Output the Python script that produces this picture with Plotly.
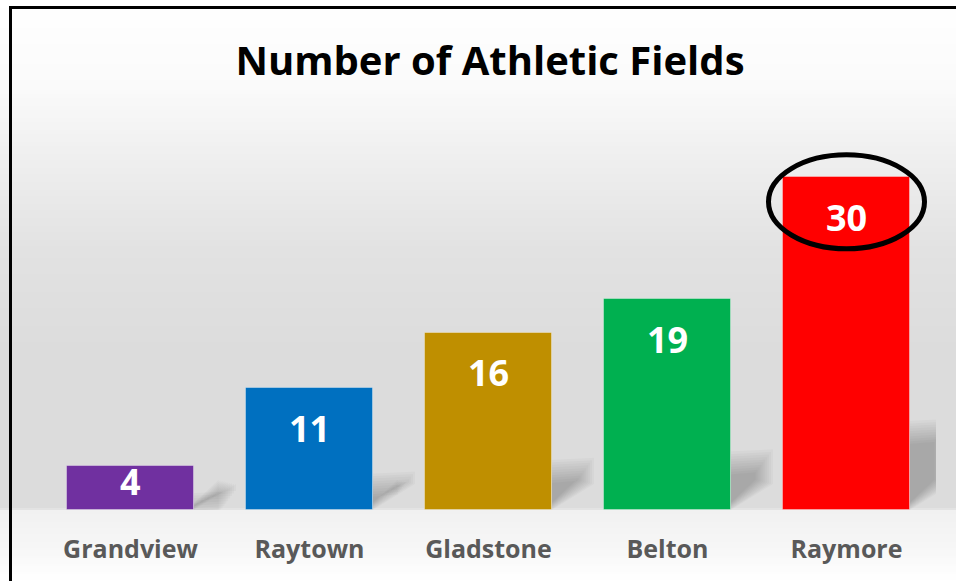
import plotly.graph_objects as go

# ---- data ----
categories = ["Grandview", "Raytown", "Gladstone", "Belton", "Raymore"]
values = [4, 11, 16, 19, 30]
bar_colors = ["#7030A0", "#0070C0", "#BF8F00", "#00B050", "#FF0000"]
chart_title = "Number of Athletic Fields"
highlight = "Raymore"

# ---- layout constants ----
W, H = 956, 581
ML, MR, MT, MB = 41, 20, 144, 71
YMAX = 33
xs = list(range(len(categories)))
PW, PH = W - ML - MR, H - MT - MB
px_x = PW / len(categories)      # pixels per category unit
px_y = PH / YMAX                 # pixels per value unit
BAR_W = 127 / px_x
FONT = "Open Sans"


def pxx(p):   # figure pixel x -> paper (plot-area) fraction
    return (p - ML) / PW


def pxy(p):   # figure pixel y (from top) -> paper fraction
    return (H - MB - p) / PH


fig = go.Figure()
fig.add_trace(go.Bar(
    x=xs, y=values, width=BAR_W,
    marker=dict(color=bar_colors, line=dict(width=1, color="rgba(255,255,255,0.35)")),
    hoverinfo="skip", showlegend=False,
))

shapes = []

# background vertical gradient over the whole figure
stops = [(0, 255), (90, 250), (150, 240), (250, 226), (350, 220),
         (508, 220), (511, 241), (545, 246), (581, 255)]


def gray_at(py):
    for (a, ga), (b, gb) in zip(stops[:-1], stops[1:]):
        if a <= py <= b:
            t = (py - a) / (b - a) if b > a else 0
            return ga + (gb - ga) * t
    return 255


step = 2
for py in range(0, H, step):
    g = int(round(gray_at(py + step / 2)))
    shapes.append(dict(
        type="rect", xref="paper", yref="paper", layer="below",
        x0=pxx(-5), x1=pxx(W + 5), y0=pxy(py + step + 1), y1=pxy(py),
        fillcolor=f"rgb({g},{g},{g})", line=dict(width=0),
    ))

# bar shadows (cast to the lower right), many faint layers for a soft edge
for x, v in zip(xs, values):
    xr = x + BAR_W / 2
    h_px = v * px_y
    sh = 0.25 * h_px
    for k in range(10):
        inset = k * 1.6
        pts = [
            (0, 0 + inset * 0.5),
            (0, sh + 6 - inset * 1.6),
            (42 - inset * 1.2, sh + 8 - inset * 1.6),
            (42 - inset * 1.2, 26 + inset * 0.3),
        ]
        path = "M " + " L ".join(
            f"{xr + p[0] / px_x:.4f},{p[1] / px_y:.4f}" for p in pts) + " Z"
        shapes.append(dict(type="path", xref="x", yref="y", layer="below",
                           path=path, fillcolor="rgba(0,0,0,0.024)",
                           line=dict(width=0)))

# highlight ellipse around the top of the highlighted bar
hi = categories.index(highlight)
hv = values[hi]
shapes.append(dict(
    type="circle", xref="x", yref="y", layer="above",
    x0=hi - 78 / px_x, x1=hi + 78 / px_x,
    y0=hv - (24.5 + 47) / px_y, y1=hv - (24.5 - 47) / px_y,
    line=dict(color="black", width=5), fillcolor="rgba(0,0,0,0)",
))

# outer frame (only left and top edges visible)
shapes.append(dict(type="rect", xref="paper", yref="paper", layer="above",
                   x0=pxx(10.5), x1=pxx(W + 20), y0=pxy(H + 20), y1=pxy(7.5),
                   line=dict(color="black", width=3), fillcolor="rgba(0,0,0,0)"))

# value labels inside bars
annotations = []
for x, v in zip(xs, values):
    ly = max(v - 40 / px_y, 29 / px_y)
    annotations.append(dict(
        x=x, y=ly, xref="x", yref="y", text=f"<b>{v}</b>", showarrow=False,
        xanchor="center", yanchor="middle",
        font=dict(family=FONT, size=36, color="white"),
    ))

fig.update_layout(
    width=W, height=H,
    margin=dict(l=ML, r=MR, t=MT, b=MB, pad=0),
    paper_bgcolor="white", plot_bgcolor="rgba(0,0,0,0)",
    title=dict(text=f"<b>{chart_title}</b>", x=490 / W, xanchor="center",
               y=1 - 61 / H, yanchor="middle", yref="container",
               font=dict(family=FONT, size=40, color="black")),
    xaxis=dict(range=[-0.5, len(categories) - 0.5], tickvals=xs,
               ticktext=[f"<b>{c}</b>" for c in categories],
               showgrid=False, zeroline=False, showline=False,
               ticks="outside", ticklen=17, tickcolor="rgba(0,0,0,0)",
               tickfont=dict(family=FONT, size=25, color="#595959"),
               fixedrange=True),
    yaxis=dict(range=[0, YMAX], visible=False, fixedrange=True),
    shapes=shapes, annotations=annotations,
    bargap=0,
)

fig.write_html("out.html")
